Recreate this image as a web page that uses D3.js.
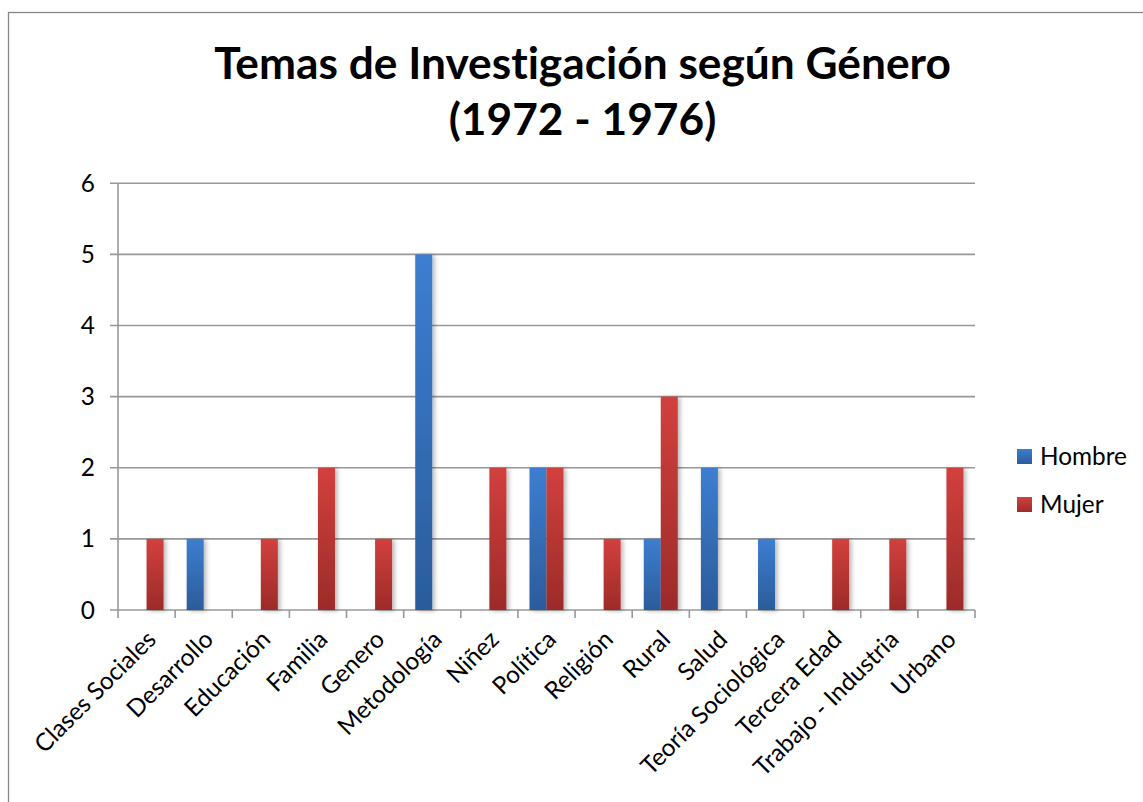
<!DOCTYPE html>
<html>
<head>
<meta charset="utf-8">
<script src="https://cdn.jsdelivr.net/npm/d3@7"></script>
<style>
  body { margin: 0; background: #fff; }
  svg { display: block; font-family: Lato, "Open Sans", sans-serif; font-variant-ligatures: none; }
</style>
</head>
<body>
<svg id="chart" width="1143" height="802"></svg>
<script>
const categories = ['Clases Sociales', 'Desarrollo', 'Educación', 'Familia', 'Genero', 'Metodología', 'Niñez',
  'Política', 'Religión', 'Rural', 'Salud', 'Teoría Sociológica', 'Tercera Edad', 'Trabajo - Industria', 'Urbano'];
const hombre = [0, 1, 0, 0, 0, 5, 0, 2, 0, 1, 2, 1, 0, 0, 0];
const mujer = [1, 0, 1, 2, 1, 0, 2, 2, 1, 3, 0, 0, 1, 1, 2];
const seriesNames = ['Hombre', 'Mujer'];
const yTicks = [0, 1, 2, 3, 4, 5, 6];
const titleLines = ['Temas de Investigación según Género', '(1972 - 1976)'];

const svg = d3.select('#chart');
const plot = { left: 118, right: 975, top: 183.3, bottom: 610 };

// gradients + soft shadow like the excel bars
const defs = svg.append('defs');
const grads = [
  { id: 'gHombre', top: '#3c7ed0', bottom: '#2b5c9b' },
  { id: 'gMujer', top: '#d2403d', bottom: '#9c2b29' }
];
grads.forEach(g => {
  const lg = defs.append('linearGradient').attr('id', g.id)
    .attr('x1', 0).attr('y1', 0).attr('x2', 0).attr('y2', 1);
  lg.append('stop').attr('offset', '0%').attr('stop-color', g.top);
  lg.append('stop').attr('offset', '100%').attr('stop-color', g.bottom);
});
defs.append('filter').attr('id', 'shadow')
  .attr('x', '-30%').attr('y', '-10%').attr('width', '180%').attr('height', '130%')
  .append('feDropShadow')
  .attr('dx', 2.5).attr('dy', 1).attr('stdDeviation', 2)
  .attr('flood-color', '#000').attr('flood-opacity', 0.28);

// outer chart border (right / bottom edges fall outside the picture)
svg.append('rect')
  .attr('x', 8.5).attr('y', 12.5).attr('width', 1160).attr('height', 820)
  .attr('fill', 'none').attr('stroke', '#878787').attr('stroke-width', 1.3);

const x = d3.scaleBand().domain(categories).range([plot.left, plot.right]).padding(0);
const y = d3.scaleLinear().domain([0, 6]).range([plot.bottom, plot.top]);

// title, sized so the first line spans the same width as the original
const title = svg.append('g').attr('font-weight', 'bold').attr('fill', '#000')
  .attr('text-anchor', 'middle');
const t1 = title.append('text').attr('x', 582.5).attr('y', 79).attr('font-size', 40).text(titleLines[0]);
const titleSize = 40 * 737 / t1.node().getComputedTextLength();
t1.attr('font-size', titleSize);
title.append('text').attr('x', 582.5).attr('y', 135).attr('font-size', titleSize).text(titleLines[1]);

// label font size: match width of "Hombre" in legend (~87px)
const probe = svg.append('text').attr('font-size', 20).text('Hombre');
const labelSize = 20 * 87 / probe.node().getComputedTextLength();
probe.remove();

// gridlines
svg.append('g').selectAll('line').data(yTicks).join('line')
  .attr('x1', plot.left - 8).attr('x2', plot.right)
  .attr('y1', d => y(d)).attr('y2', d => y(d))
  .attr('stroke', '#989898').attr('stroke-width', 1.6);

// y axis line
svg.append('line')
  .attr('x1', plot.left).attr('x2', plot.left)
  .attr('y1', plot.top).attr('y2', plot.bottom)
  .attr('stroke', '#989898').attr('stroke-width', 1.6);

// y tick labels
svg.append('g').selectAll('text').data(yTicks).join('text')
  .attr('x', 95).attr('y', d => y(d)).attr('dy', '0.35em')
  .attr('text-anchor', 'end').attr('font-size', labelSize).attr('fill', '#000')
  .text(d => d);

// x tick marks at category boundaries
const bounds = categories.map(c => x(c)).concat([plot.right]);
svg.append('g').selectAll('line').data(bounds).join('line')
  .attr('x1', d => d).attr('x2', d => d)
  .attr('y1', plot.bottom).attr('y2', plot.bottom + 8)
  .attr('stroke', '#989898').attr('stroke-width', 1.6);

// bars
const barW = 17;
const rows = categories.map((c, i) => ({ cat: c, values: [hombre[i], mujer[i]] }));
const barG = svg.append('g').attr('filter', 'url(#shadow)');
rows.forEach(r => {
  const cx = x(r.cat) + x.bandwidth() / 2;
  r.values.forEach((v, s) => {
    if (!v) return;
    barG.append('rect')
      .attr('x', cx - barW + s * barW)
      .attr('y', y(v))
      .attr('width', barW)
      .attr('height', y(0) - y(v))
      .attr('fill', `url(#${grads[s].id})`);
  });
});

// rotated category labels
svg.append('g').selectAll('text').data(categories).join('text')
  .attr('transform', d => `translate(${x(d) + x.bandwidth() / 2 + 11},${plot.bottom + 31}) rotate(-45)`)
  .attr('text-anchor', 'end').attr('font-size', labelSize).attr('fill', '#000')
  .text(d => d);

// legend
const legend = svg.append('g').selectAll('g').data(seriesNames).join('g')
  .attr('transform', (d, i) => `translate(1017,${449 + i * 48})`);
legend.append('rect').attr('width', 15).attr('height', 15)
  .attr('fill', (d, i) => `url(#${grads[i].id})`);
legend.append('text').attr('x', 23).attr('y', 16)
  .attr('font-size', labelSize).attr('fill', '#000')
  .text(d => d);
</script>
</body>
</html>
